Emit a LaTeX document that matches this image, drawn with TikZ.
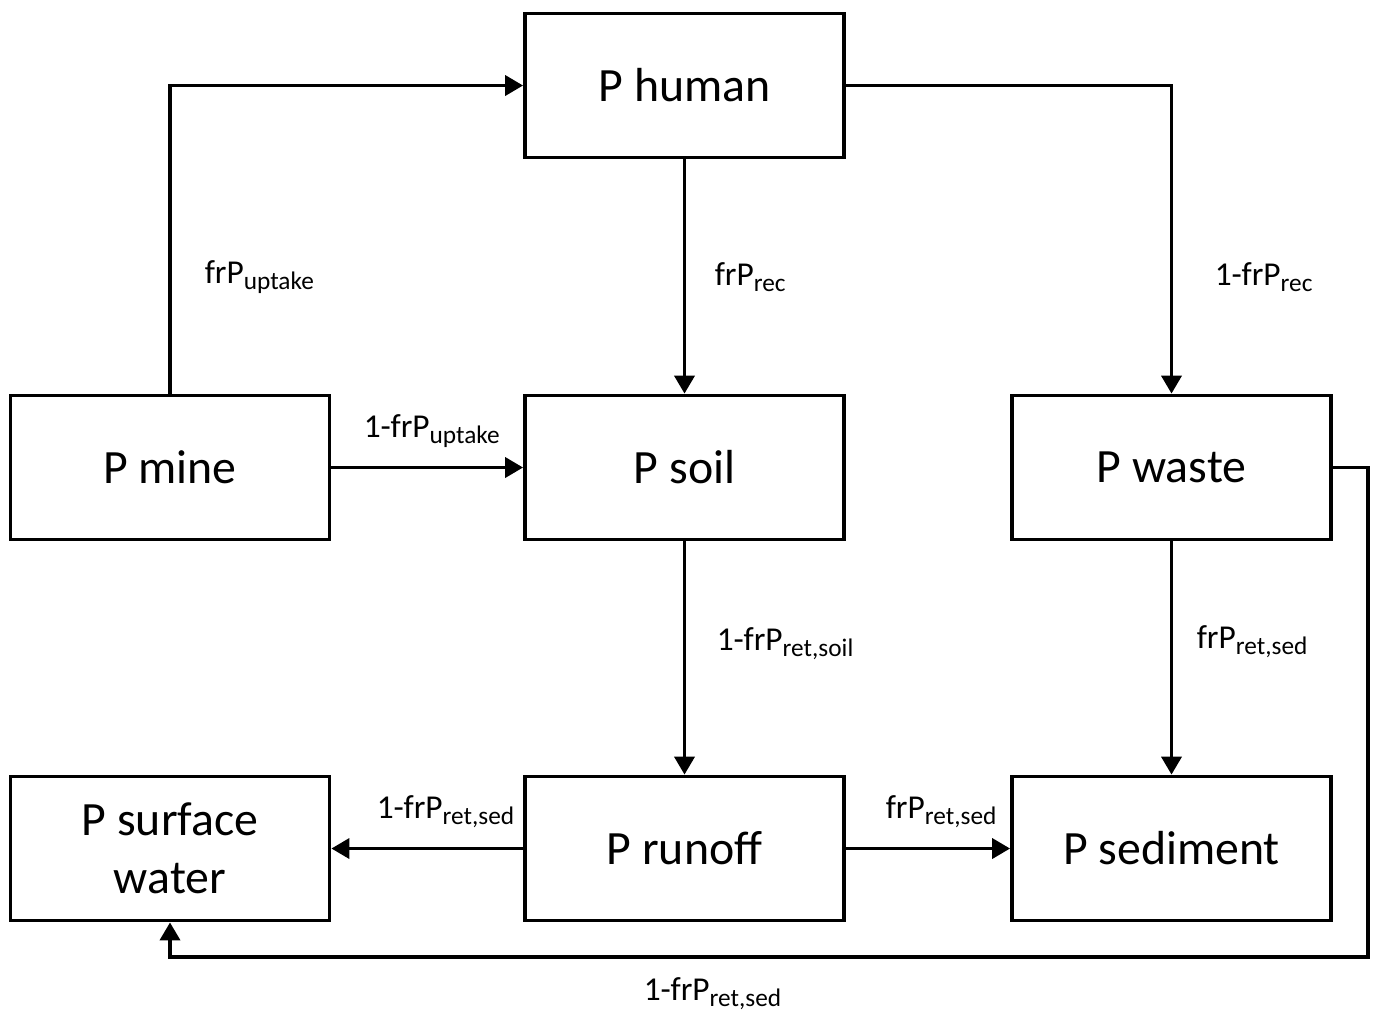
\documentclass[tikz,border=0pt]{standalone}
\usepackage{fontspec}
\setmainfont{Carlito}
\usetikzlibrary{arrows.meta}
\newcommand{\lowtxt}[1]{\raisebox{-1.8pt}{\fontsize{7.2}{8}\selectfont #1}}

\begin{document}
\begin{tikzpicture}[line width=1pt,>={Triangle[length=5.1pt,width=5.7pt]},
  pool node/.style={rectangle,draw,line width=1.1pt,minimum width=3.19cm,
    minimum height=1.44cm,inner sep=0pt,align=center,
    font=\fontsize{13.6}{16.5}\selectfont},
  flow label/.style={anchor=base west,inner sep=0pt,font=\fontsize{9.5}{11}\selectfont}]

  \useasboundingbox (0,0) rectangle (13.74,-10.15);

  \node[pool node] (human) at (6.845,-0.855) {P human};
  \node[pool node] (mine) at (1.70,-4.675) {P mine};
  \node[pool node] (soil) at (6.845,-4.675) {P soil};
  \node[pool node] (waste) at (11.715,-4.675) {P waste};
  \node[pool node] (surface) at (1.70,-8.485) {P surface\\water};
  \node[pool node] (runoff) at (6.845,-8.485) {P runoff};
  \node[pool node] (sediment) at (11.715,-8.485) {P sediment};

  \coordinate (wasteout) at (13.68,-4.675);
  \coordinate (wastedown) at (13.68,-9.57);

  \draw[->] (mine) |- (human);
  \draw[->] (human) -| (waste);
  \draw[->] (waste.east) -- (wasteout) -- (wastedown) -| (surface);

  \path[->]
  (human) edge (soil)
  (mine) edge (soil)
  (soil) edge (runoff)
  (waste) edge (sediment)
  (runoff) edge (surface)
  (runoff) edge (sediment);

  \node[flow label] (uptake) at (2.03,-2.83) {frP\lowtxt{uptake}};
  \node[flow label] (rec) at (7.13,-2.85) {frP\lowtxt{rec}};
  \node[flow label] (notrec) at (12.13,-2.85) {1-frP\lowtxt{rec}};
  \node[flow label] (notuptake) at (3.62,-4.37) {1-frP\lowtxt{uptake}};
  \node[flow label] (notsoil) at (7.15,-6.50) {1-frP\lowtxt{ret,soil}};
  \node[flow label] (sedwaste) at (11.95,-6.48) {frP\lowtxt{ret,sed}};
  \node[flow label] (notsedrun) at (3.75,-8.18) {1-frP\lowtxt{ret,sed}};
  \node[flow label] (sedrun) at (8.84,-8.18) {frP\lowtxt{ret,sed}};
  \node[flow label] (notsedwaste) at (6.42,-10.00) {1-frP\lowtxt{ret,sed}};
\end{tikzpicture}
\end{document}
